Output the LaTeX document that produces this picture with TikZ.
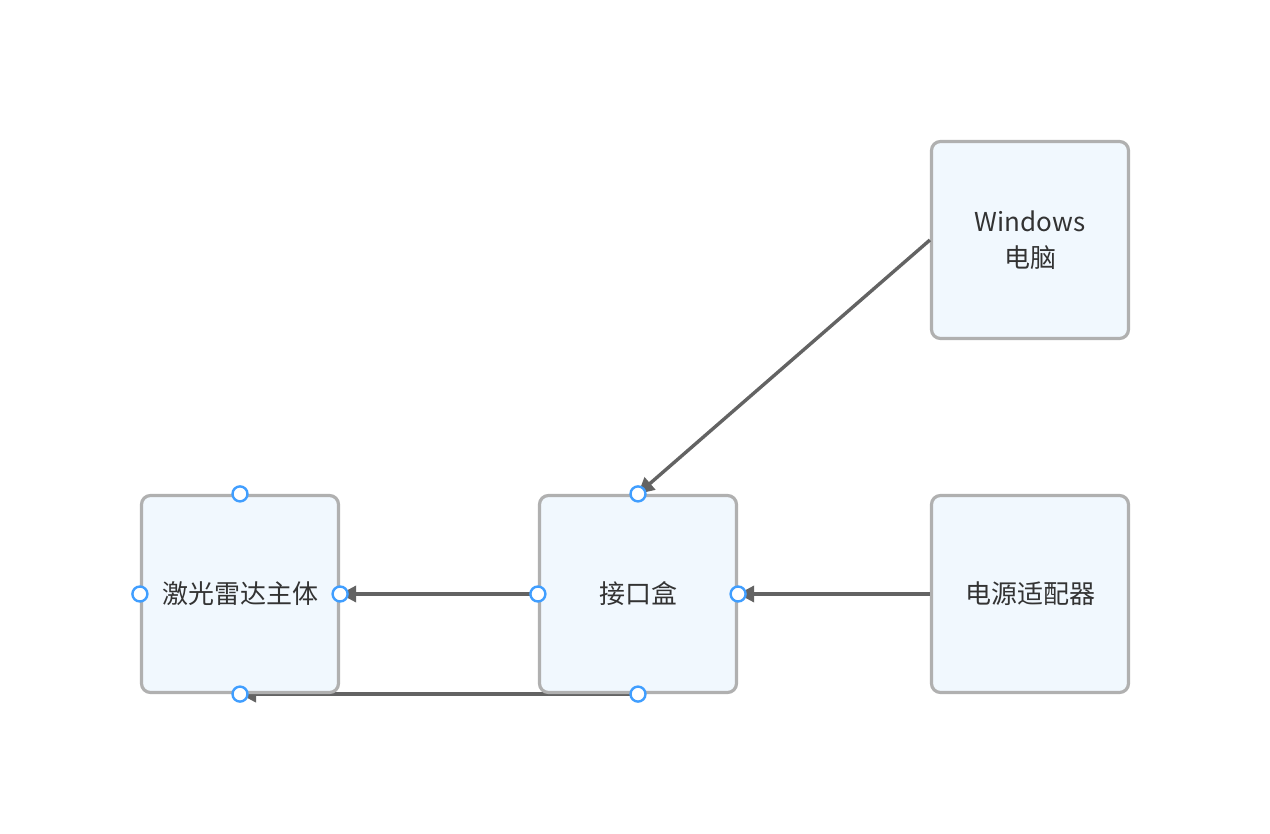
\documentclass[tikz,border=0pt]{standalone}
\usepackage{fontspec}
\setmainfont{Noto Sans CJK SC}
\usetikzlibrary{arrows.meta,backgrounds}
\definecolor{boxline}{HTML}{B0B0B0}
\definecolor{boxfill}{HTML}{F1F8FE}
\definecolor{wire}{HTML}{636363}
\definecolor{port}{HTML}{409EFF}
\definecolor{label}{HTML}{333333}
\tikzset{
  unit/.style={draw=boxline, fill=boxfill, line width=3.2pt, rounded corners=9pt,
    minimum width=197pt, minimum height=197pt, align=center, text=label,
    font=\fontsize{26pt}{36pt}\selectfont},
  link/.style={draw=wire, line width=3.4pt, -{Triangle[length=16pt,width=16pt]}},
  portdot/.style={draw=port, fill=white, line width=2.4pt, circle, inner sep=0pt, minimum size=15pt}
}

\begin{document}
\begin{tikzpicture}[x=1pt,y=-1pt]
\useasboundingbox (0,0) rectangle (1270,834);
\node[unit] (lidar) at (240,594) {激光雷达主体};
\node[unit] (jbox) at (638,594) {接口盒};
\node[unit] (power) at (1030,594) {电源适配器};
\node[unit] (pc) at (1030,240) {Windows\\电脑};
\begin{scope}[on background layer]
\draw[link] (jbox.south) -- (lidar.south);
\end{scope}
\draw[link] (pc.west) -- (jbox.north);
\draw[link] (power.west) -- (jbox.east);
\draw[link] (jbox.west) -- (lidar.east);
\foreach \n in {lidar,jbox}
  \foreach \a in {north,south,east,west}
    \node[portdot] (\n-\a) at (\n.\a) {};
\end{tikzpicture}
\end{document}
